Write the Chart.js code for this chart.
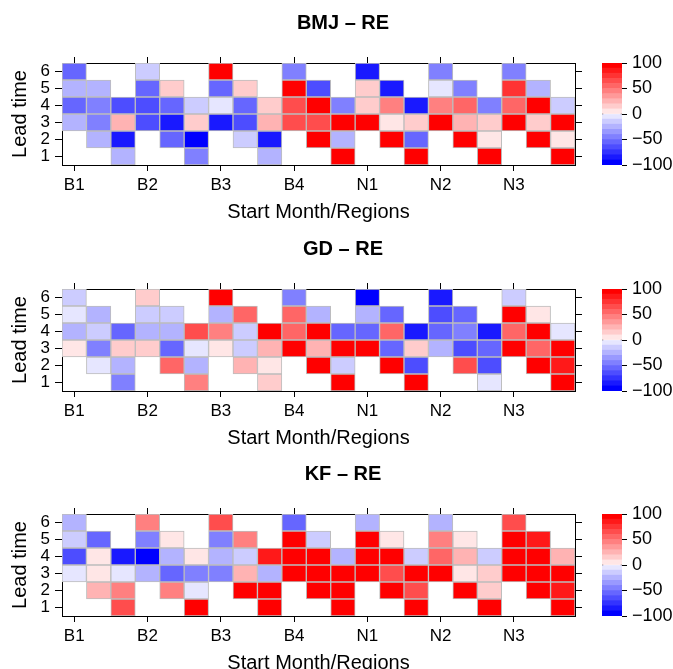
<!DOCTYPE html>
<html lang="en">
<head>
<meta charset="UTF-8">
<title>RE by lead time</title>
<script src="https://cdn.jsdelivr.net/npm/chart.js"></script>
<style>
  html, body { margin: 0; padding: 0; background: #fff; overflow: hidden; }
  body { width: 673px; height: 669px; position: relative; }
  .panel { position: absolute; left: 0; }
  .key { position: absolute; left: 560px; }
</style>
</head>
<body>
<div class="panel" style="top:0"><canvas id="heat1" width="686" height="227"></canvas></div>
<div class="key" style="top:0"><canvas id="key1" width="113" height="227"></canvas></div>
<div class="panel" style="top:226px"><canvas id="heat2" width="686" height="227"></canvas></div>
<div class="key" style="top:226px"><canvas id="key2" width="113" height="227"></canvas></div>
<div class="panel" style="top:451px"><canvas id="heat3" width="686" height="227"></canvas></div>
<div class="key" style="top:451px"><canvas id="key3" width="113" height="227"></canvas></div>

<script>
// regions, three start months each -> 21 columns
const regions = ['B1', 'B2', 'B3', 'B4', 'N1', 'N2', 'N3'];
const startMonths = [1, 2, 3];
const leadTimes = [1, 2, 3, 4, 5, 6];
const keyTicks = [-100, -50, 0, 50, 100];
const keyBreaks = [-100, -90, -80, -70, -60, -50, -40, -30, -20, -10, 0, 10, 20, 30, 40, 50, 60, 70, 80, 90, 100];

// one row per lead time (1..6), 21 columns, null = no cell
const bmjValues = [
    [null, null, -30, null, null, -50, null, null, -30, null, null, 100, null, null, 100, null, null, 100, null, null, 100],
    [null, -30, -90, null, -60, -100, null, -20, -90, null, 100, -30, null, 100, -60, null, 100, 10, null, 100, 10],
    [-30, -50, 30, -70, -90, 20, -90, -70, 30, 70, 70, 100, 100, 10, 20, 100, 30, 20, 100, 20, 100],
    [-60, -50, -70, -70, -60, -20, -10, -60, 20, 70, 100, -50, 20, 50, -90, 50, 60, -50, 60, 100, -20],
    [-30, -30, null, -60, 20, null, -60, 20, null, 100, -70, null, 20, -90, null, -10, -50, null, 80, -30, null],
    [-60, null, null, -20, null, null, 100, null, null, -50, null, null, -90, null, null, -50, null, null, -50, null, null]
];
const gdValues = [
    [null, null, -50, null, null, 50, null, null, 20, null, null, 100, null, null, 100, null, null, -10, null, null, 100],
    [null, -10, -30, null, 60, -30, null, 30, 10, null, 100, -20, null, 100, -70, null, 70, -70, null, 100, 90],
    [10, -50, 20, 20, -60, -10, 10, -20, 30, 100, 30, 100, 100, -60, 20, -30, -70, -60, 100, 60, 100],
    [-30, -20, -60, -30, -30, 70, 50, -20, 100, 60, 100, -60, -60, 60, -90, -60, -50, -90, 60, 100, -10],
    [-10, -30, null, -20, -20, null, -30, 60, null, 60, -30, null, -30, -60, null, -70, -60, null, 100, 10, null],
    [-20, null, null, 20, null, null, 100, null, null, -50, null, null, -100, null, null, -90, null, null, -20, null, null]
];
const kfValues = [
    [null, null, 70, null, null, 100, null, null, 100, null, null, 100, null, null, 100, null, null, 100, null, null, 100],
    [null, 30, 50, null, 50, -10, null, 100, 100, null, 100, 100, null, 100, 70, null, 100, 20, null, 100, 90],
    [-10, 10, -10, -30, -60, -50, -50, 30, -30, 100, 100, 100, 100, 70, 100, 100, 10, 20, 100, 100, 100],
    [-70, 10, -90, -100, -30, 10, -30, -20, 90, 100, 100, -30, 100, 100, -20, 60, 30, -20, 100, 100, 30],
    [-20, -60, null, -50, 10, null, -50, 50, null, 100, -20, null, 100, 10, null, 50, 10, null, 100, 90, null],
    [-30, null, null, 50, null, null, 70, null, null, -60, null, null, -30, null, null, -30, null, null, 70, null, null]
];

const columns = regions.flatMap(r => startMonths.map(m => r + '.' + m));

Chart.defaults.font.family = '"Liberation Sans", Arial, Helvetica, sans-serif';
Chart.defaults.color = '#000';

// blue - white - red, 10 steps each side
function reColor(v) {
    if (v === null) return 'rgba(0,0,0,0)';
    const lvl = Math.min(10, Math.max(1, Math.ceil(Math.abs(v) / 10)));
    const g = Math.round(255 * (1 - lvl / 10));
    return v >= 0 ? `rgb(255,${g},${g})` : `rgb(${g},${g},255)`;
}

const tickEvery3 = c => (c.index % 3 === 0 ? '#000' : 'rgba(0,0,0,0)');
const setLeadTicks = s => { s.ticks = leadTimes.map(v => ({ value: v })); };

function makeHeat(id, title, values) {
    const datasets = leadTimes.map((lead, i) => ({
        label: 'Lead ' + lead,
        data: values[i].map(v => (v === null ? null : [lead - 0.5, lead + 0.5])),
        backgroundColor: values[i].map(reColor),
        borderColor: '#bdbdbd',
        borderWidth: 1,
        borderSkipped: false,
        grouped: false,
        barPercentage: 1,
        categoryPercentage: 1
    }));

    new Chart(document.getElementById(id), {
        type: 'bar',
        data: { labels: columns, datasets },
        options: {
            responsive: false,
            animation: false,
            layout: { padding: 0 },
            plugins: {
                legend: { display: false },
                tooltip: { enabled: false },
                title: {
                    display: true, text: title, color: '#000',
                    font: { size: 20, weight: 'bold' },
                    padding: { top: 11, bottom: 10 }
                }
            },
            scales: {
                x: {
                    type: 'category', position: 'bottom',
                    grid: { drawOnChartArea: false, tickLength: 6, offset: false, color: tickEvery3 },
                    border: { display: true, color: '#000' },
                    ticks: {
                        autoSkip: false, maxRotation: 0, minRotation: 0, padding: 4,
                        font: { size: 17 },
                        callback: (val, i) => (i % 3 === 0 ? regions[i / 3] : '')
                    },
                    title: { display: true, text: 'Start Month/Regions', font: { size: 20 }, padding: { top: 0, bottom: 3 } },
                    afterFit: s => { s.height = 62; }
                },
                x2: {
                    type: 'category', position: 'top', labels: columns,
                    grid: { drawOnChartArea: false, tickLength: 6, offset: false, color: tickEvery3 },
                    border: { display: true, color: '#000' },
                    ticks: { display: false },
                    afterFit: s => { s.height = 18; }
                },
                y: {
                    type: 'linear', position: 'left', min: 0.5, max: 6.5,
                    afterBuildTicks: setLeadTicks,
                    grid: { drawOnChartArea: false, tickLength: 7, color: '#000' },
                    border: { display: true, color: '#000' },
                    ticks: { autoSkip: false, padding: 5, font: { size: 17 } },
                    title: { display: true, text: 'Lead time', font: { size: 20 }, padding: { top: 8, bottom: 0 } },
                    afterFit: s => { s.width = 62; }
                },
                y2: {
                    type: 'linear', position: 'right', min: 0.5, max: 6.5,
                    afterBuildTicks: setLeadTicks,
                    grid: { drawOnChartArea: false, tickLength: 7, color: '#000' },
                    border: { display: true, color: '#000' },
                    ticks: { display: false, autoSkip: false },
                    afterFit: s => { s.width = 111; }
                }
            }
        }
    });
}

function makeKey(id) {
    const datasets = keyBreaks.slice(0, -1).map((lo, i) => ({
        data: [[lo, keyBreaks[i + 1]]],
        backgroundColor: reColor((lo + keyBreaks[i + 1]) / 2),
        borderWidth: 0,
        grouped: false, barPercentage: 1, categoryPercentage: 1
    }));
    // outline of the colour key
    datasets.push({
        data: [[keyBreaks[0], keyBreaks[keyBreaks.length - 1]]],
        backgroundColor: 'rgba(0,0,0,0)',
        borderColor: '#000', borderWidth: 1, borderSkipped: false,
        grouped: false, barPercentage: 1, categoryPercentage: 1
    });

    new Chart(document.getElementById(id), {
        type: 'bar',
        data: { labels: ['key'], datasets },
        options: {
            responsive: false,
            animation: false,
            layout: { padding: { left: 42, top: 63, bottom: 62, right: 0 } },
            plugins: { legend: { display: false }, tooltip: { enabled: false } },
            scales: {
                x: { display: false },
                y: {
                    position: 'right', min: -100, max: 100,
                    afterBuildTicks: s => { s.ticks = keyTicks.map(v => ({ value: v })); },
                    grid: { drawOnChartArea: false, tickLength: 5, color: '#000' },
                    border: { display: false },
                    ticks: {
                        autoSkip: false, padding: 5, font: { size: 18 },
                        callback: v => (v < 0 ? '\u2212' + Math.abs(v) : String(v))
                    },
                    afterFit: s => { s.width = 51; }
                }
            }
        }
    });
}

makeHeat('heat1', 'BMJ \u2013 RE', bmjValues);
makeHeat('heat2', 'GD \u2013 RE', gdValues);
makeHeat('heat3', 'KF \u2013 RE', kfValues);
makeKey('key1');
makeKey('key2');
makeKey('key3');
</script>
</body>
</html>
